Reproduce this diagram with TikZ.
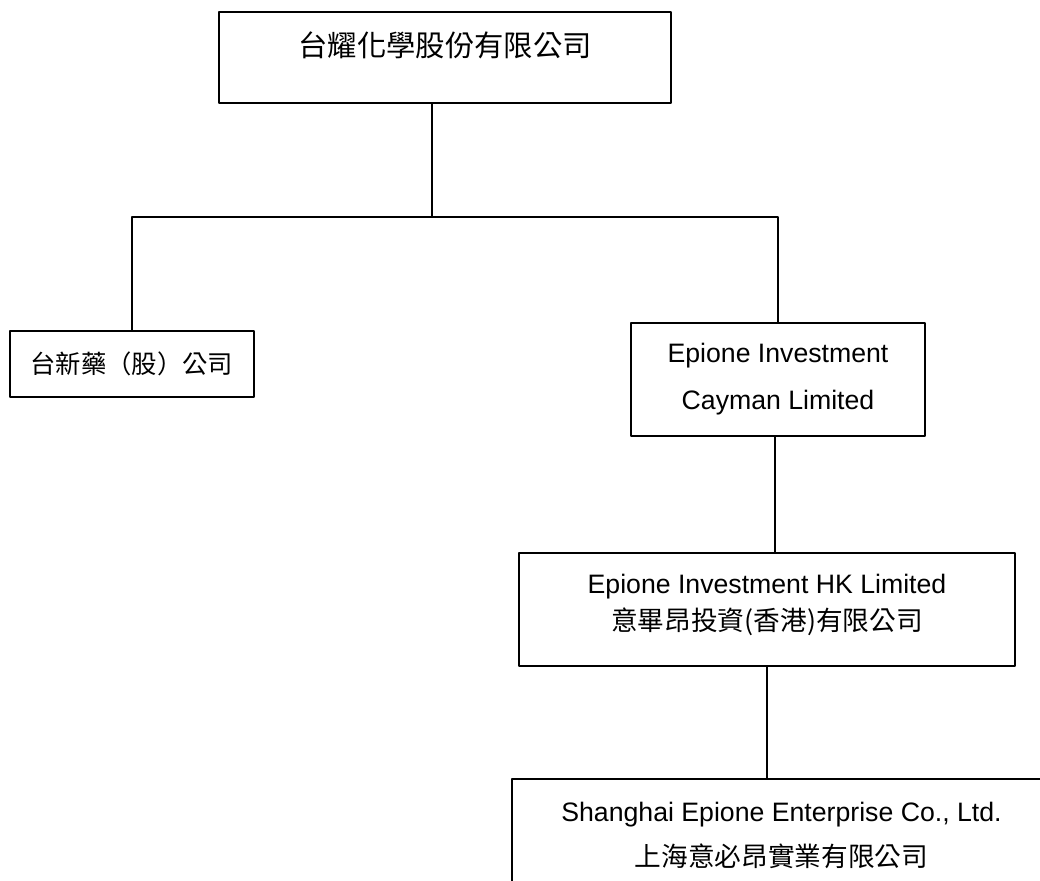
\documentclass[tikz,border=0pt]{standalone}
\usepackage{fontspec}
\setmainfont{Liberation Sans}
\newfontfamily\cjk{Noto Sans CJK TC}
\begin{document}
\begin{tikzpicture}[x=0.75pt,y=-0.75pt,line join=round,font=\fontsize{20pt}{24pt}\selectfont]
	\tikzset{orgbox/.style={draw,line width=1.5pt,inner sep=0pt,align=center}}
	\clip (0,0) rectangle (1040,881);
	\node[orgbox,minimum width=339pt,minimum height=68.25pt,text height=19pt,text depth=21pt,font=\cjk\fontsize{22pt}{26pt}\selectfont] (tai) at (445,57.5) {台耀化學股份有限公司};
	\node[orgbox,minimum width=183pt,minimum height=49.5pt,font=\cjk\fontsize{19pt}{24pt}\selectfont] (xin) at (132,364) {台新藥（股）公司};
	\node[orgbox,minimum width=220.5pt,minimum height=84.75pt] (cay) at (778,379.5) {Epione Investment\\[11.25pt]Cayman Limited};
	\node[orgbox,minimum width=372pt,minimum height=84.75pt,text height=34pt,text depth=3pt] (hk) at (767,609.5) {Epione Investment HK Limited\\[3.75pt]{\cjk 意畢昂投資(香港)有限公司}};
	\node[orgbox,minimum width=404.25pt,minimum height=84.75pt] (sh) at (781.5,835.5) {Shanghai Epione Enterprise Co., Ltd.\\[9.75pt]{\cjk 上海意必昂實業有限公司}};
	\coordinate (split) at (432,217);
	\coordinate (down) at (775,500);
	\draw[line width=1.5pt] (tai.south -| split)--(split);
	\draw[line width=1.5pt] (xin.north) |- (split) -| (cay.north);
	\draw[line width=1.5pt] (cay.south -| down)--(hk.north -| down);
	\draw[line width=1.5pt] (hk.south)--(sh.north -| hk.south);
\end{tikzpicture}
\end{document}
